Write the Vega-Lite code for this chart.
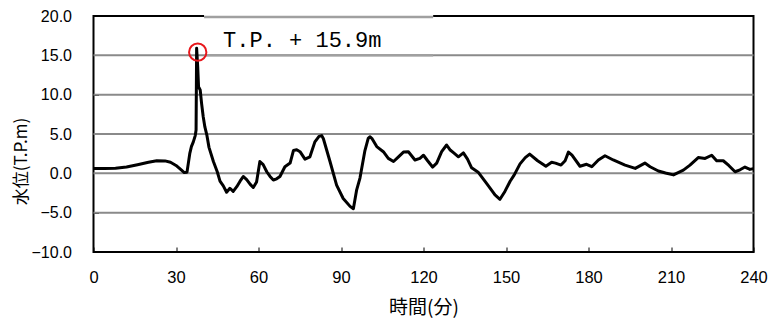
{
  "$schema": "https://vega.github.io/schema/vega-lite/v6.json",
  "width": 660,
  "height": 236,
  "autosize": "none",
  "padding": {"left": 93.5, "top": 16, "right": 17.5, "bottom": 73},
  "background": "white",
  "config": {
    "view": {"stroke": "black", "strokeWidth": 2},
    "axis": {"grid": false}
  },
  "data": {"values": [
    {"t": 0, "v": 0.6}, {"t": 4, "v": 0.62}, {"t": 8, "v": 0.65}, {"t": 12, "v": 0.8}, {"t": 16, "v": 1.1},
    {"t": 20, "v": 1.4}, {"t": 23, "v": 1.6}, {"t": 26, "v": 1.58}, {"t": 28, "v": 1.4}, {"t": 30, "v": 1.0},
    {"t": 32, "v": 0.4}, {"t": 33, "v": 0.1}, {"t": 34, "v": 0.15}, {"t": 35, "v": 2.5}, {"t": 35.6, "v": 3.4},
    {"t": 36.3, "v": 4.0}, {"t": 37.0, "v": 4.8}, {"t": 37.3, "v": 5.5}, {"t": 37.5, "v": 15.9}, {"t": 37.9, "v": 13.5},
    {"t": 38.2, "v": 11.0}, {"t": 38.8, "v": 10.6}, {"t": 39.3, "v": 8.9}, {"t": 39.9, "v": 7.2}, {"t": 40.5, "v": 5.9},
    {"t": 41.2, "v": 4.9}, {"t": 42, "v": 3.3}, {"t": 43.6, "v": 1.5}, {"t": 45, "v": 0.2}, {"t": 46, "v": -1.0},
    {"t": 47.2, "v": -1.6}, {"t": 48.4, "v": -2.4}, {"t": 49.6, "v": -1.9}, {"t": 50.8, "v": -2.3}, {"t": 52.1, "v": -1.7},
    {"t": 53.3, "v": -1.0}, {"t": 54.5, "v": -0.4}, {"t": 55.7, "v": -0.8}, {"t": 57.0, "v": -1.4}, {"t": 58.1, "v": -1.8},
    {"t": 59.3, "v": -1.1}, {"t": 60.5, "v": 1.5}, {"t": 61.7, "v": 1.1}, {"t": 63, "v": 0.2}, {"t": 64.2, "v": -0.4},
    {"t": 65.4, "v": -0.85}, {"t": 66.6, "v": -0.7}, {"t": 67.8, "v": -0.4}, {"t": 69.6, "v": 0.84}, {"t": 71.5, "v": 1.3},
    {"t": 72.7, "v": 2.9}, {"t": 73.9, "v": 3.0}, {"t": 75.1, "v": 2.75}, {"t": 76.9, "v": 1.8}, {"t": 78.7, "v": 2.1},
    {"t": 80.5, "v": 4.0}, {"t": 82.0, "v": 4.7}, {"t": 83.0, "v": 4.8}, {"t": 83.6, "v": 4.4}, {"t": 86, "v": 1.5},
    {"t": 88.4, "v": -1.5}, {"t": 90.8, "v": -3.2}, {"t": 93.3, "v": -4.2}, {"t": 94.5, "v": -4.5}, {"t": 95.7, "v": -2.1},
    {"t": 96.9, "v": -0.6}, {"t": 98.7, "v": 2.9}, {"t": 99.9, "v": 4.45}, {"t": 100.5, "v": 4.65}, {"t": 101.2, "v": 4.45},
    {"t": 103, "v": 3.4}, {"t": 105.4, "v": 2.75}, {"t": 107.2, "v": 1.9}, {"t": 109.1, "v": 1.5}, {"t": 110.9, "v": 2.1},
    {"t": 112.7, "v": 2.7}, {"t": 114.5, "v": 2.75}, {"t": 116.9, "v": 1.7}, {"t": 118.7, "v": 1.9}, {"t": 120, "v": 2.3},
    {"t": 121.5, "v": 1.6}, {"t": 123.3, "v": 0.8}, {"t": 124.8, "v": 1.3}, {"t": 126.6, "v": 2.75}, {"t": 128.4, "v": 3.6},
    {"t": 129.6, "v": 3.0}, {"t": 131, "v": 2.6}, {"t": 132.7, "v": 2.1}, {"t": 134.5, "v": 2.6}, {"t": 136, "v": 1.8},
    {"t": 137.5, "v": 0.7}, {"t": 140, "v": 0.1}, {"t": 143, "v": -1.3}, {"t": 146, "v": -2.75}, {"t": 147.8, "v": -3.3},
    {"t": 149.6, "v": -2.3}, {"t": 151.5, "v": -1.0}, {"t": 153, "v": -0.2}, {"t": 155.1, "v": 1.2}, {"t": 157, "v": 2.0},
    {"t": 158.6, "v": 2.45}, {"t": 161.5, "v": 1.6}, {"t": 164.5, "v": 0.9}, {"t": 166.6, "v": 1.4}, {"t": 168, "v": 1.3},
    {"t": 170, "v": 1.05}, {"t": 171.5, "v": 1.6}, {"t": 172.7, "v": 2.7}, {"t": 174, "v": 2.3}, {"t": 176.9, "v": 0.9},
    {"t": 179.3, "v": 1.15}, {"t": 181.2, "v": 0.84}, {"t": 183.6, "v": 1.7}, {"t": 186, "v": 2.24}, {"t": 189, "v": 1.7},
    {"t": 193.3, "v": 1.05}, {"t": 197, "v": 0.63}, {"t": 200.5, "v": 1.3}, {"t": 202.4, "v": 0.84}, {"t": 205.4, "v": 0.3},
    {"t": 208, "v": 0.05}, {"t": 210.9, "v": -0.2}, {"t": 214.5, "v": 0.4}, {"t": 216.9, "v": 1.05}, {"t": 219.9, "v": 2.0},
    {"t": 222.4, "v": 1.9}, {"t": 224.8, "v": 2.3}, {"t": 226.6, "v": 1.6}, {"t": 229, "v": 1.6}, {"t": 231, "v": 1.0},
    {"t": 233.3, "v": 0.2}, {"t": 235.1, "v": 0.45}, {"t": 236.9, "v": 0.8}, {"t": 238.7, "v": 0.5}, {"t": 240, "v": 0.6}
  ]},
  "layer": [
    {
      "data": {"values": [{"g": -5}, {"g": 0}, {"g": 5}, {"g": 10}, {"g": 15}]},
      "mark": {"type": "rule", "stroke": "#8a8a8a", "strokeWidth": 2, "opacity": 1},
      "encoding": {
        "x": {"datum": 0, "type": "quantitative"},
        "x2": {"datum": 240},
        "y": {"field": "g", "type": "quantitative"}
      }
    },
    {
      "mark": {"type": "line", "color": "black", "strokeWidth": 3, "strokeJoin": "round"},
      "encoding": {
        "x": {"field": "t", "type": "quantitative", "scale": {"domain": [0, 240], "nice": false},
          "axis": {"values": [0, 30, 60, 90, 120, 150, 180, 210, 240], "grid": false, "domain": false,
            "tickSize": -5, "tickColor": "black", "tickWidth": 1, "labelFlush": false, "labelOverlap": false,
            "labelFont": "Liberation Sans", "labelFontSize": 16.5, "labelColor": "black", "labelPadding": 22,
            "title": "時間(分)", "titleFont": "Noto Sans CJK JP", "titleFontSize": 19, "titleFontWeight": "normal",
            "titleColor": "black", "titleY": 55, "titleBaseline": "middle"}},
        "y": {"field": "v", "type": "quantitative", "scale": {"domain": [-10, 20], "nice": false},
          "axis": {"values": [-10, -5, 0, 5, 10, 15, 20], "tickCount": 7, "labelOverlap": false, "format": ".1f", "grid": false,
            "domain": false, "tickSize": -5, "tickColor": "black", "tickWidth": 1,
            "labelFont": "Liberation Sans", "labelFontSize": 16, "labelColor": "black", "labelPadding": 27,
            "title": "水位(T.P.m)", "titleFont": "Noto Sans CJK JP", "titleFontSize": 17, "titleFontWeight": "normal",
            "titleColor": "black", "titleX": -72, "titleY": 145, "titleBaseline": "middle", "titleAlign": "center", "titleAngle": -90}}
      }
    },
    {
      "data": {"values": [{}]},
      "mark": {"type": "rect", "fill": "white"},
      "encoding": {
        "x": {"datum": 40.2, "type": "quantitative"}, "x2": {"datum": 123.5},
        "y": {"datum": 15.1, "type": "quantitative"}, "y2": {"datum": 20.3}
      }
    },
    {
      "data": {"values": [{}]},
      "mark": {"type": "rule", "color": "#a0a0a0", "strokeWidth": 2.5},
      "encoding": {
        "x": {"datum": 40.2, "type": "quantitative"}, "x2": {"datum": 123.5},
        "y": {"datum": 19.87, "type": "quantitative"}
      }
    },
    {
      "data": {"values": [{}]},
      "mark": {"type": "rule", "color": "#a0a0a0", "strokeWidth": 2.5},
      "encoding": {
        "x": {"datum": 40.2, "type": "quantitative"}, "x2": {"datum": 123.5},
        "y": {"datum": 15, "type": "quantitative"}
      }
    },
    {
      "data": {"values": [{}]},
      "mark": {"type": "text", "text": "T.P. + 15.9m", "font": "Liberation Mono", "fontSize": 22, "fontWeight": "normal", "align": "left", "baseline": "middle", "color": "black"},
      "encoding": {
        "x": {"datum": 47.1, "type": "quantitative"},
        "y": {"datum": 16.94, "type": "quantitative"}
      }
    },
    {
      "data": {"values": [{}]},
      "mark": {"type": "point", "shape": "circle", "filled": false, "stroke": "#e8161b", "strokeWidth": 2, "size": 300, "opacity": 1},
      "encoding": {
        "x": {"datum": 37.9, "type": "quantitative"},
        "y": {"datum": 15.4, "type": "quantitative"}
      }
    }
  ]
}
